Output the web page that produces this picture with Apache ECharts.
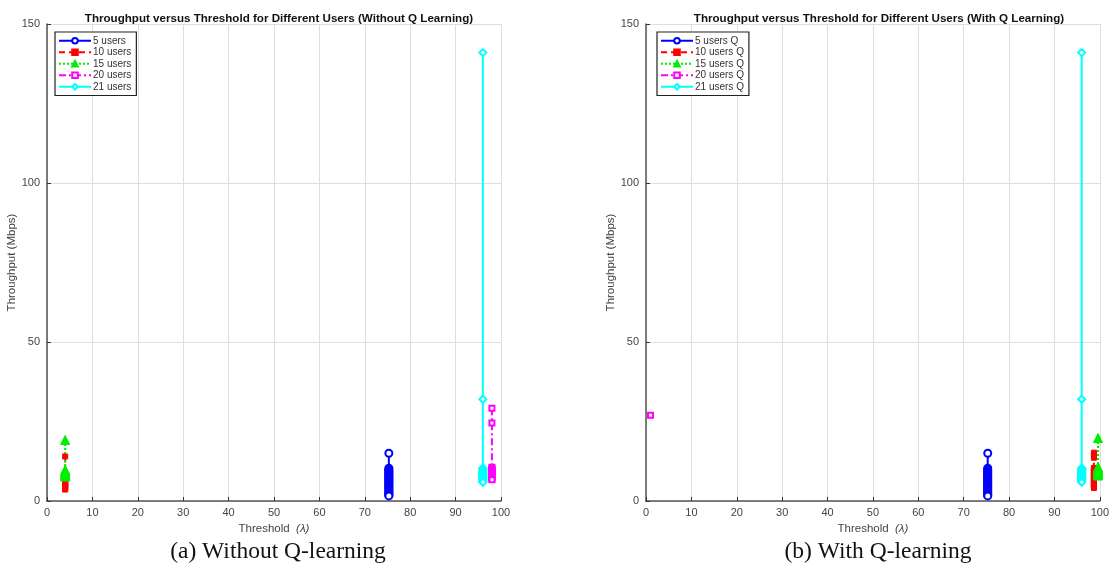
<!DOCTYPE html>
<html>
<head>
<meta charset="utf-8">
<script src="https://cdn.jsdelivr.net/npm/echarts@6/dist/echarts.min.js"></script>
<style>html,body{margin:0;padding:0;background:#fff;}#c{width:1112px;height:569px;}</style>
</head>
<body>
<div id="c"></div>
<script>
// ---- data ----
var xTicks = [0, 10, 20, 30, 40, 50, 60, 70, 80, 90, 100];
var yTicks = [0, 50, 100, 150];

// (a) Without Q learning
var namesA = ['5 users', '10 users', '15 users', '20 users', '21 users'];
var thrA = [75.3, 4, 4, 98, 96];
var tp5 = [15, 10.3, 10, 9.6, 9.3, 9, 8.6, 8.3, 8, 7.6, 7.3, 7, 6.6, 6.3, 6, 5.6, 5.3, 5, 4.6, 4.3, 4, 3.6, 3.3, 3, 2.6, 2.3, 2, 1.8, 1.6];
var tp10 = [14, 7.2, 6.9, 6.6, 6.3, 6, 5.7, 5.4, 5.1, 4.8, 4.5, 4.2, 3.9, 3.6];
var tp15 = [19.2, 9.8, 9.5, 9.2, 8.9, 8.6, 8.3, 8, 7.7];
var tp20 = [29.2, 24.5, 10.6, 10.3, 10, 9.7, 9.4, 9.1, 8.8, 8.5, 8.2, 7.9, 7.6, 7.3, 7, 6.7];
var tp21 = [141, 32, 10.4, 10.1, 9.8, 9.5, 9.2, 8.9, 8.6, 8.3, 8, 7.7, 7.4, 7.1, 6.8, 6.5, 6.2, 5.9];

// (b) With Q learning
var namesB = ['5 users Q', '10 users Q', '15 users Q', '20 users Q', '21 users Q'];
var thrB = [75.3, 98.7, 99.6, 1, 96];
var tp5Q = [15, 10.3, 10, 9.6, 9.3, 9, 8.6, 8.3, 8, 7.6, 7.3, 7, 6.6, 6.3, 6, 5.6, 5.3, 5, 4.6, 4.3, 4, 3.6, 3.3, 3, 2.6, 2.3, 2, 1.8, 1.6];
var tp10Q = [15.2, 14.6, 14, 13.6, 10.4, 10.1, 9.8, 9.5, 9.2, 8.9, 8.6, 8.3, 8, 7.7, 7.4, 7.1, 6.8, 6.5, 6.2, 5.9, 5.6, 5.3, 5, 4.7, 4.4, 4.1];
var tp15Q = [19.8, 10.7, 10.4, 10.1, 9.8, 9.5, 9.2, 8.9, 8.6, 8.3, 8];
var tp20Q = [27];
var tp21Q = [141, 32, 10.4, 10.1, 9.8, 9.5, 9.2, 8.9, 8.6, 8.3, 8, 7.7, 7.4, 7.1, 6.8, 6.5, 6.2, 5.9];

var titles = ['Throughput versus Threshold for Different Users (Without Q Learning)',
              'Throughput versus Threshold for Different Users (With Q Learning)'];
var captions = ['(a) Without Q-learning', '(b) With Q-learning'];

// ---- styles ----
var styles = [
  {color: '#0000ff', symbol: 'emptyCircle', size: 7, type: 'solid', width: 2, bw: 2},
  {color: '#ff0000', symbol: 'rect', size: 5, type: [6, 4], width: 2, bw: 1},
  {color: '#00ee00', symbol: 'triangle', size: 9, type: [2, 2], width: 2, bw: 1},
  {color: '#ff00ff', symbol: 'emptyRect', size: 5, type: [7, 3, 2, 3], width: 2, bw: 1.2},
  {color: '#00ffff', symbol: 'emptyDiamond', size: 7, type: 'solid', width: 2, bw: 1.5}
];

function pairs(x, ys) { return ys.map(function (y) { return [x, y]; }); }

function mkSeries(names, thr, lists, idx) {
  return names.map(function (n, i) {
    var s = styles[i];
    return {
      name: n, type: 'line', xAxisIndex: idx, yAxisIndex: idx,
      data: pairs(thr[i], lists[i]),
      symbol: s.symbol, symbolSize: s.size, showSymbol: true, showAllSymbol: true,
      lineStyle: {color: s.color, type: s.type, width: s.width},
      itemStyle: {color: s.color, borderColor: s.color, borderWidth: s.bw},
      animation: false, silent: true
    };
  });
}

var FONT = 'Liberation Sans, Arial, sans-serif';
var axisFont = {fontFamily: FONT, fontSize: 11, color: '#444'};
var grids = [
  {left: 47, top: 24, width: 454, height: 477},
  {left: 646, top: 24, width: 455, height: 477}
];

function xAxisCfg(i) {
  return {
    type: 'value', gridIndex: i, min: 0, max: 100, interval: 10,
    axisLine: {show: true, lineStyle: {color: '#555', width: 1.5}},
    axisTick: {show: true, inside: true, length: 4, lineStyle: {color: '#333'}},
    splitLine: {show: true, lineStyle: {color: '#dedede', width: 1}},
    axisLabel: Object.assign({margin: 6}, axisFont),
    name: 'Threshold  {it|(λ)}', nameLocation: 'middle', nameGap: 19,
    nameTextStyle: Object.assign({rich: {it: {fontStyle: 'italic', fontSize: 11.5, color: '#444', fontFamily: FONT}}}, axisFont, {fontSize: 11.5})
  };
}
function yAxisCfg(i) {
  return {
    type: 'value', gridIndex: i, min: 0, max: 150, interval: 50,
    axisLine: {show: true, lineStyle: {color: '#555', width: 1.5}},
    axisTick: {show: true, inside: true, length: 4, lineStyle: {color: '#333'}},
    splitLine: {show: true, lineStyle: {color: '#dedede', width: 1}},
    axisLabel: Object.assign({margin: 7}, axisFont),
    name: 'Throughput (Mbps)', nameLocation: 'middle', nameGap: 27,
    nameTextStyle: Object.assign({}, axisFont, {fontSize: 11.5})
  };
}
function legendCfg(names, left) {
  return {
    data: names, orient: 'vertical', left: left, top: 32,
    itemWidth: 32, itemHeight: 7, itemGap: 0,
    padding: [3, 5, 3, 3],
    backgroundColor: '#fff', borderColor: '#222', borderWidth: 1.2,
    textStyle: {fontFamily: FONT, fontSize: 10, lineHeight: 11.5, color: '#333', padding: [0, 0, 0, -3]},
    selectedMode: false
  };
}

var series = mkSeries(namesA, thrA, [tp5, tp10, tp15, tp20, tp21], 0)
  .concat(mkSeries(namesB, thrB, [tp5Q, tp10Q, tp15Q, tp20Q, tp21Q], 1));

var titleStyle = {fontFamily: FONT, fontSize: 11.6, fontWeight: 'bold', color: '#111'};
var capStyle = {fontFamily: 'Liberation Serif, DejaVu Serif, serif', fontSize: 23.5, fontWeight: 'normal', color: '#111'};

var chart = echarts.init(document.getElementById('c'), null, {renderer: 'canvas'});
chart.setOption({
  backgroundColor: '#fff',
  animation: false,
  title: [
    {text: titles[0], left: 274, top: 8, textAlign: 'center', textStyle: titleStyle},
    {text: titles[1], left: 874, top: 8, textAlign: 'center', textStyle: titleStyle},
    {text: captions[0], left: 273, top: 535, textAlign: 'center', textStyle: capStyle},
    {text: captions[1], left: 873, top: 535, textAlign: 'center', textStyle: capStyle}
  ],
  legend: [legendCfg(namesA, 55), legendCfg(namesB, 657)],
  grid: grids,
  xAxis: [xAxisCfg(0), xAxisCfg(1)],
  yAxis: [yAxisCfg(0), yAxisCfg(1)],
  series: series
});
</script>
</body>
</html>
